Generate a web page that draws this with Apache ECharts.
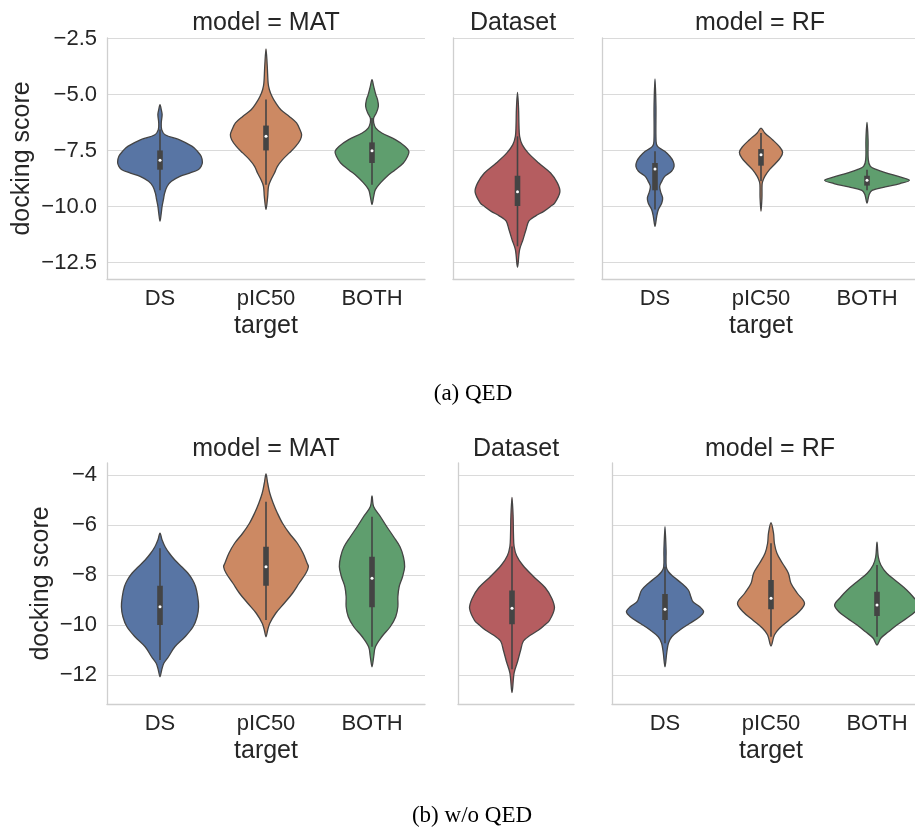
<!DOCTYPE html>
<html><head><meta charset="utf-8">
<script src="https://cdn.jsdelivr.net/npm/echarts@6/dist/echarts.min.js"></script>
<style>html,body{margin:0;padding:0;background:#fff}#c{width:915px;height:829px}</style>
</head><body><div id="c"></div>
<script>
// ---------- data ----------
const CATEGORIES = ['DS', 'pIC50', 'BOTH'];
const DATASET_CATEGORY = ['Dataset'];
const PANEL_TITLES = ['model = MAT', 'Dataset', 'model = RF'];
const X_NAME = 'target';
const Y_NAME = 'docking score';
const CAPTIONS = ['(a) QED', '(b) w/o QED'];
const Y_TICKS_A = [-12.5, -10, -7.5, -5, -2.5];
const Y_TICKS_B = [-12, -10, -8, -6, -4];

// violin profiles: [docking score, relative density (1 = widest)]
const a_MAT_DS = [[-5.45,0],[-5.67,.03],[-5.89,.05],[-6.26,.03],[-6.56,.04],[-6.79,.12],[-7.01,.45],[-7.31,.76],[-7.5,.87],[-7.75,.97],[-8.02,1],[-8.2,.97],[-8.35,.9],[-8.5,.7],[-8.65,.47],[-8.87,.27],[-9.09,.17],[-9.39,.11],[-9.69,.08],[-9.98,.05],[-10.28,.03],[-10.65,0]];
const a_MAT_pIC50 = [[-2.96,0],[-3.74,.03],[-4.48,.05],[-4.78,.08],[-5.07,.14],[-5.37,.23],[-5.67,.35],[-5.97,.55],[-6.26,.72],[-6.56,.8],[-6.79,.84],[-7.01,.81],[-7.31,.7],[-7.6,.55],[-7.9,.39],[-8.2,.27],[-8.5,.2],[-8.79,.12],[-9.09,.06],[-9.54,.04],[-10.13,0]];
const a_MAT_BOTH = [[-4.33,0],[-4.63,.04],[-5.0,.09],[-5.22,.13],[-5.52,.15],[-5.82,.1],[-6.04,.04],[-6.26,.04],[-6.49,.09],[-6.71,.23],[-7.01,.55],[-7.31,.78],[-7.53,.87],[-7.75,.84],[-8.05,.74],[-8.35,.55],[-8.65,.35],[-8.94,.2],[-9.24,.08],[-9.54,.04],[-9.91,0]];
const DATASET_VIOLIN = [[-4.9,0],[-5.6,.025],[-6.4,.035],[-6.86,.05],[-7.23,.11],[-7.6,.25],[-8.05,.5],[-8.5,.78],[-8.94,.94],[-9.34,1],[-9.83,.88],[-10.0,.77],[-10.21,.62],[-10.41,.43],[-10.64,.27],[-11.03,.2],[-11.47,.13],[-11.92,.05],[-12.7,0]];
const a_RF_DS = [[-4.3,0],[-5.5,.022],[-7.08,.025],[-7.31,.06],[-7.53,.23],[-7.75,.35],[-7.98,.43],[-8.2,.45],[-8.42,.39],[-8.65,.23],[-8.87,.16],[-9.09,.11],[-9.32,.13],[-9.61,.18],[-9.84,.16],[-10.13,.08],[-10.43,.04],[-10.88,0]];
const a_RF_pIC50 = [[-6.49,0],[-6.71,.09],[-7.01,.27],[-7.31,.43],[-7.57,.51],[-7.83,.45],[-8.05,.35],[-8.35,.2],[-8.65,.09],[-8.87,.04],[-9.02,.025],[-9.6,.022],[-10.21,0]];
const a_RF_BOTH = [[-6.24,0],[-7.0,.025],[-7.9,.03],[-8.2,.08],[-8.35,.23],[-8.5,.47],[-8.65,.74],[-8.82,1],[-8.97,.78],[-9.12,.43],[-9.27,.12],[-9.46,.05],[-9.84,0]];

const b_MAT_DS = [[-6.33,0],[-6.6,.05],[-6.87,.12],[-7.13,.22],[-7.4,.35],[-7.67,.51],[-7.93,.66],[-8.2,.77],[-8.47,.84],[-8.87,.89],[-9.27,.91],[-9.67,.875],[-10.07,.78],[-10.47,.59],[-10.87,.35],[-11.27,.2],[-11.53,.09],[-11.8,.04],[-12.07,0]];
const b_MAT_pIC50 = [[-3.96,0],[-4.33,.04],[-4.73,.09],[-5.13,.17],[-5.53,.27],[-5.93,.39],[-6.33,.55],[-6.73,.74],[-7.13,.875],[-7.53,.97],[-7.67,1],[-7.93,.94],[-8.33,.78],[-8.73,.625],[-9.13,.43],[-9.53,.23],[-9.93,.09],[-10.2,.04],[-10.47,0]];
const b_MAT_BOTH = [[-4.84,0],[-5.27,.04],[-5.67,.2],[-6.07,.35],[-6.47,.51],[-6.87,.66],[-7.27,.74],[-7.67,.77],[-8.07,.72],[-8.47,.64],[-8.87,.61],[-9.27,.61],[-9.67,.56],[-10.07,.43],[-10.47,.23],[-10.87,.08],[-11.27,.04],[-11.67,0]];
const b_RF_DS = [[-6.07,0],[-7.0,.025],[-7.67,.03],[-7.87,.08],[-8.07,.2],[-8.33,.39],[-8.6,.55],[-8.87,.61],[-9.07,.66],[-9.27,.82],[-9.47,.91],[-9.67,.82],[-9.93,.59],[-10.2,.35],[-10.47,.16],[-10.73,.08],[-11.13,.04],[-11.67,0]];
const b_RF_pIC50 = [[-5.91,0],[-6.33,.06],[-6.73,.08],[-7.13,.14],[-7.53,.27],[-7.93,.41],[-8.33,.47],[-8.73,.62],[-9.13,.79],[-9.47,.66],[-9.8,.43],[-10.13,.2],[-10.4,.08],[-10.84,0]];
const b_RF_BOTH = [[-6.69,0],[-7.27,.03],[-7.6,.09],[-7.93,.23],[-8.27,.47],[-8.6,.7],[-8.89,.86],[-9.2,1],[-9.47,.9],[-9.73,.7],[-10.0,.47],[-10.27,.27],[-10.53,.09],[-10.8,0]];

// inner boxes: [lower whisker, q1, median, q3, upper whisker]
const a_MAT_BOX = [[-9.27,-8.35,-7.93,-7.49,-6.56],[-9.02,-7.49,-6.86,-6.38,-5.22],[-9.02,-8.05,-7.5,-7.13,-6.04]];
const DATASET_BOX = [[-11.77,-9.97,-9.33,-8.62,-6.86]];
const a_RF_BOX = [[-10.13,-9.27,-8.32,-8.05,-7.53],[-8.87,-8.17,-7.68,-7.43,-6.71],[-9.27,-9.06,-8.82,-8.62,-8.35]];
const b_MAT_BOX = [[-11.4,-10.0,-9.27,-8.43,-6.93],[-9.8,-8.43,-7.67,-6.87,-5.07],[-10.87,-9.29,-8.13,-7.27,-5.67]];
const b_RF_BOX = [[-10.73,-9.8,-9.37,-8.76,-7.67],[-10.47,-9.37,-8.93,-8.2,-6.73],[-10.47,-9.64,-9.2,-8.67,-7.6]];

// ---------- style ----------
const COLORS = ['#5875a4', '#cc8963', '#5f9e6e'];
const DATASET_COLOR = '#b55d60';
const EDGE = '#444444';
const TEXT = '#262626';
const GRID_C = '#dadada';
const SPINE_C = '#cfcfcf';
const FONT = "'Liberation Sans', Arial, sans-serif";
const HALF_MAX = 42.4;

const chart = echarts.init(document.getElementById('c'), null, {renderer: 'canvas'});

function renderViolin(profiles, boxes, colors, dx) {
  return function (params, api) {
    const i = params.dataIndex;
    const prof = profiles[i], bx = boxes[i];
    const c = api.value(0);
    const cx = api.coord([c, prof[0][0]])[0] + dx;
    const pts = [];
    prof.forEach(p => {
      const y = api.coord([c, p[0]])[1];
      pts.push([cx + p[1] * HALF_MAX, y]);
    });
    for (let k = prof.length - 2; k >= 1; k--) {
      const y = api.coord([c, prof[k][0]])[1];
      pts.push([cx - prof[k][1] * HALF_MAX, y]);
    }
    const Y = v => api.coord([c, v])[1];
    return {
      type: 'group',
      children: [
        {type: 'polygon', shape: {points: pts, smooth: 0.35}, style: {fill: colors[i], stroke: EDGE, lineWidth: 1.3}},
        {type: 'line', shape: {x1: cx, y1: Y(bx[0]), x2: cx, y2: Y(bx[4])}, style: {stroke: EDGE, lineWidth: 1.6}},
        {type: 'rect', shape: {x: cx - 2.8, y: Y(bx[3]), width: 5.6, height: Y(bx[1]) - Y(bx[3])}, style: {fill: EDGE}},
        {type: 'circle', shape: {cx: cx, cy: Y(bx[2]), r: 1.5}, style: {fill: '#ffffff'}}
      ]
    };
  };
}

// layout per row
const ROWS = [
  {top: 38, height: 241, min: -13.23, max: -2.47, ticks: Y_TICKS_A, fmt: v => '\u2212' + Math.abs(v).toFixed(1),
   panels: [{left: 107, width: 318}, {left: 453, width: 121, dx: 4}, {left: 602, width: 318}], nameGap: 72,
   profiles: [[a_MAT_DS, a_MAT_pIC50, a_MAT_BOTH], [DATASET_VIOLIN], [a_RF_DS, a_RF_pIC50, a_RF_BOTH]],
   boxes: [a_MAT_BOX, DATASET_BOX, a_RF_BOX], titleY: 23, titleX: [266, 513, 760]},
  {top: 463, height: 241, min: -13.16, max: -3.52, ticks: Y_TICKS_B, fmt: v => '\u2212' + Math.abs(v),
   panels: [{left: 107, width: 318}, {left: 458, width: 116, dx: -4}, {left: 612, width: 318}], nameGap: 53,
   profiles: [[b_MAT_DS, b_MAT_pIC50, b_MAT_BOTH], [DATASET_VIOLIN], [b_RF_DS, b_RF_pIC50, b_RF_BOTH]],
   boxes: [b_MAT_BOX, DATASET_BOX, b_RF_BOX], titleY: 449, titleX: [266, 516, 770]}
];

const grid = [], xAxis = [], yAxis = [], series = [], graphic = [];
ROWS.forEach((row, r) => {
  row.panels.forEach((p, j) => {
    const k = grid.length;
    const isData = j === 1;
    grid.push({left: p.left, width: p.width, top: row.top, height: row.height, containLabel: false, outerBoundsMode: 'none'});
    xAxis.push({
      type: 'category', gridIndex: k, data: isData ? DATASET_CATEGORY : CATEGORIES,
      axisLine: {show: true, onZero: false, lineStyle: {color: SPINE_C, width: 1.3}},
      axisTick: {show: false},
      axisLabel: {show: !isData, fontSize: 22, color: TEXT, fontFamily: FONT, margin: 9},
      splitLine: {show: false},
      name: isData ? '' : X_NAME, nameLocation: 'middle', nameGap: 35,
      nameTextStyle: {fontSize: 25, color: TEXT, fontFamily: FONT}
    });
    yAxis.push({
      type: 'value', gridIndex: k, min: row.min, max: row.max,
      axisLine: {show: true, onZero: false, lineStyle: {color: SPINE_C, width: 1.3}},
      axisTick: {show: false, customValues: row.ticks},
      axisLabel: {show: j === 0, customValues: row.ticks, formatter: row.fmt, fontSize: 22, color: TEXT, fontFamily: FONT, margin: 10},
      splitLine: {show: true, lineStyle: {color: GRID_C, width: 1.2}},
      name: j === 0 ? Y_NAME : '', nameLocation: 'middle', nameGap: row.nameGap,
      nameTextStyle: {fontSize: 25, color: TEXT, fontFamily: FONT}
    });
    const cats = isData ? DATASET_CATEGORY : CATEGORIES;
    series.push({
      type: 'custom', xAxisIndex: k, yAxisIndex: k,
      data: cats.map((_, i) => [i]),
      renderItem: renderViolin(row.profiles[j], row.boxes[j], isData ? [DATASET_COLOR] : COLORS, p.dx || 0),
      clip: false, silent: true
    });
    graphic.push({type: 'text', x: row.titleX[j], y: row.titleY,
      style: {text: PANEL_TITLES[j], fontSize: 25, fill: TEXT, fontFamily: FONT, align: 'center', verticalAlign: 'middle'}});
  });
});
graphic.push({type: 'text', x: 473, y: 394, style: {text: CAPTIONS[0], fontSize: 23, fill: '#000', fontFamily: "'Liberation Serif', 'Times New Roman', serif", align: 'center', verticalAlign: 'middle'}});
graphic.push({type: 'text', x: 472, y: 816, style: {text: CAPTIONS[1], fontSize: 23, fill: '#000', fontFamily: "'Liberation Serif', 'Times New Roman', serif", align: 'center', verticalAlign: 'middle'}});

chart.setOption({animation: false, grid, xAxis, yAxis, series, graphic});
</script></body></html>
